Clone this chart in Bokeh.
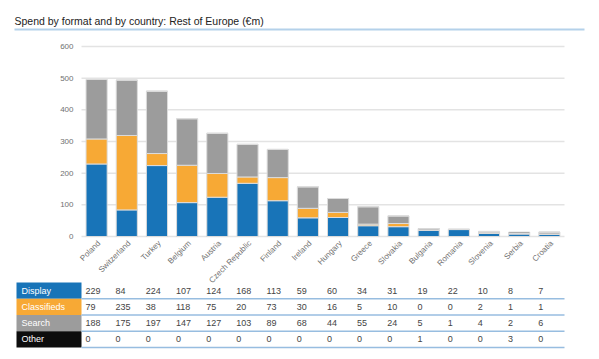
import math
import numpy as np
from bokeh.plotting import figure
from bokeh.models import Range1d, ColumnDataSource
from bokeh.embed import file_html
from bokeh.resources import INLINE
from bokeh.core.properties import value

# ---- data ----
countries = ["Poland", "Switzerland", "Turkey", "Belgium", "Austria", "Czech Republic",
             "Finland", "Ireland", "Hungary", "Greece", "Slovakia", "Bulgaria",
             "Romania", "Slovenia", "Serbia", "Croatia"]
display = [229, 84, 224, 107, 124, 168, 113, 59, 60, 34, 31, 19, 22, 10, 8, 7]
classifieds = [79, 235, 38, 118, 75, 20, 73, 30, 16, 5, 10, 0, 0, 2, 1, 1]
search = [188, 175, 197, 147, 127, 103, 89, 68, 44, 55, 24, 5, 1, 4, 2, 6]
other = [0, 0, 0, 0, 0, 0, 0, 0, 0, 0, 0, 1, 0, 0, 3, 0]
formats = ["Display", "Classifieds", "Search", "Other"]
colors = ["#1874b8", "#f7a935", "#9c9c9c", "#0d0d0d"]
y_ticks = [0, 100, 200, 300, 400, 500, 600]
title_text = "Spend by format and by country: Rest of Europe (€m)"

FONT = value("Liberation Sans")
W, H = 591, 351          # figure placed at page (0, 0)
unit = 483 / 16          # px per category
x0_px = 81               # px where category 0 starts
ypx = 190 / 600          # px per value unit
zero_px = 236            # px of value 0
row_px = 16.25
row0_px = 282            # px of table top

x_range = Range1d(-x0_px / unit, (W - x0_px) / unit)
y_range = Range1d(-(H - zero_px) / ypx, zero_px / ypx)
p = figure(width=W, height=H, x_range=x_range, y_range=y_range,
           x_axis_type=None, y_axis_type=None, output_backend="svg",
           toolbar_location=None, min_border=0)
p.extra_x_ranges = {"px": Range1d(0, W)}
p.extra_y_ranges = {"px": Range1d(H, 0),
                    "rows": Range1d((H - row0_px) / row_px, -row0_px / row_px)}
p.grid.visible = False
p.outline_line_color = None

# ---- title ----
p.text(x=[14], y=[20], text=[title_text], text_font=FONT, text_font_size="10.5px",
       text_color="#222222", text_baseline="middle", text_align="left",
       x_range_name="px", y_range_name="px")
p.segment(x0=[14], y0=[29], x1=[584], y1=[29], line_color="#b4d1ea", line_width=2,
          x_range_name="px", y_range_name="px")

# ---- chart ----
n = len(countries)
xpos = np.arange(n) + 0.5
series = {"Display": display, "Classifieds": classifieds, "Search": search, "Other": other}
src = ColumnDataSource(dict(x=xpos, **series))
p.segment(x0=[0] * len(y_ticks), x1=[n] * len(y_ticks), y0=y_ticks, y1=y_ticks,
          line_color="#e3e3e3", line_width=1.5)
p.vbar_stack(formats, x="x", width=0.7, color=colors, source=src,
             line_color="#dcdcdc", line_width=1)
p.text(x=[-8 / unit] * len(y_ticks), y=y_ticks, text=[str(t) for t in y_ticks],
       text_font=FONT, text_font_size="8px", text_color="#707070",
       text_align="right", text_baseline="middle")
p.text(x=xpos + 2.5 / unit, y=[-5.5 / ypx] * n, text=countries, angle=math.pi / 4,
       text_font=FONT, text_font_size="8px", text_color="#707070",
       text_align="right", text_baseline="middle")

# ---- table ----
xl = -65 / unit
rows = list(range(len(formats)))
p.quad(left=[xl] * 4, right=[0] * 4, top=rows, bottom=[r + 1 for r in rows],
       fill_color=colors, line_color=None, y_range_name="rows")
p.text(x=[xl + 5 / unit] * 4, y=[r + 0.5 for r in rows], text=formats, text_font=FONT,
       text_font_size="9px", text_color="#ffffff", text_baseline="middle",
       text_align="left", y_range_name="rows")
vx, vy, vt = [], [], []
for r, f in enumerate(formats):
    for i, v in enumerate(series[f]):
        vx.append(i + 0.13)
        vy.append(r + 0.5)
        vt.append(str(v))
p.text(x=vx, y=vy, text=vt, text_font=FONT, text_font_size="9px", text_color="#444444",
       text_baseline="middle", text_align="left", y_range_name="rows")
p.segment(x0=[0] * 4, x1=[n] * 4, y0=[r + 1 for r in rows], y1=[r + 1 for r in rows],
          line_color="#97bde0", line_width=1.5, y_range_name="rows")

open("out.html", "w").write(file_html(p, INLINE))
